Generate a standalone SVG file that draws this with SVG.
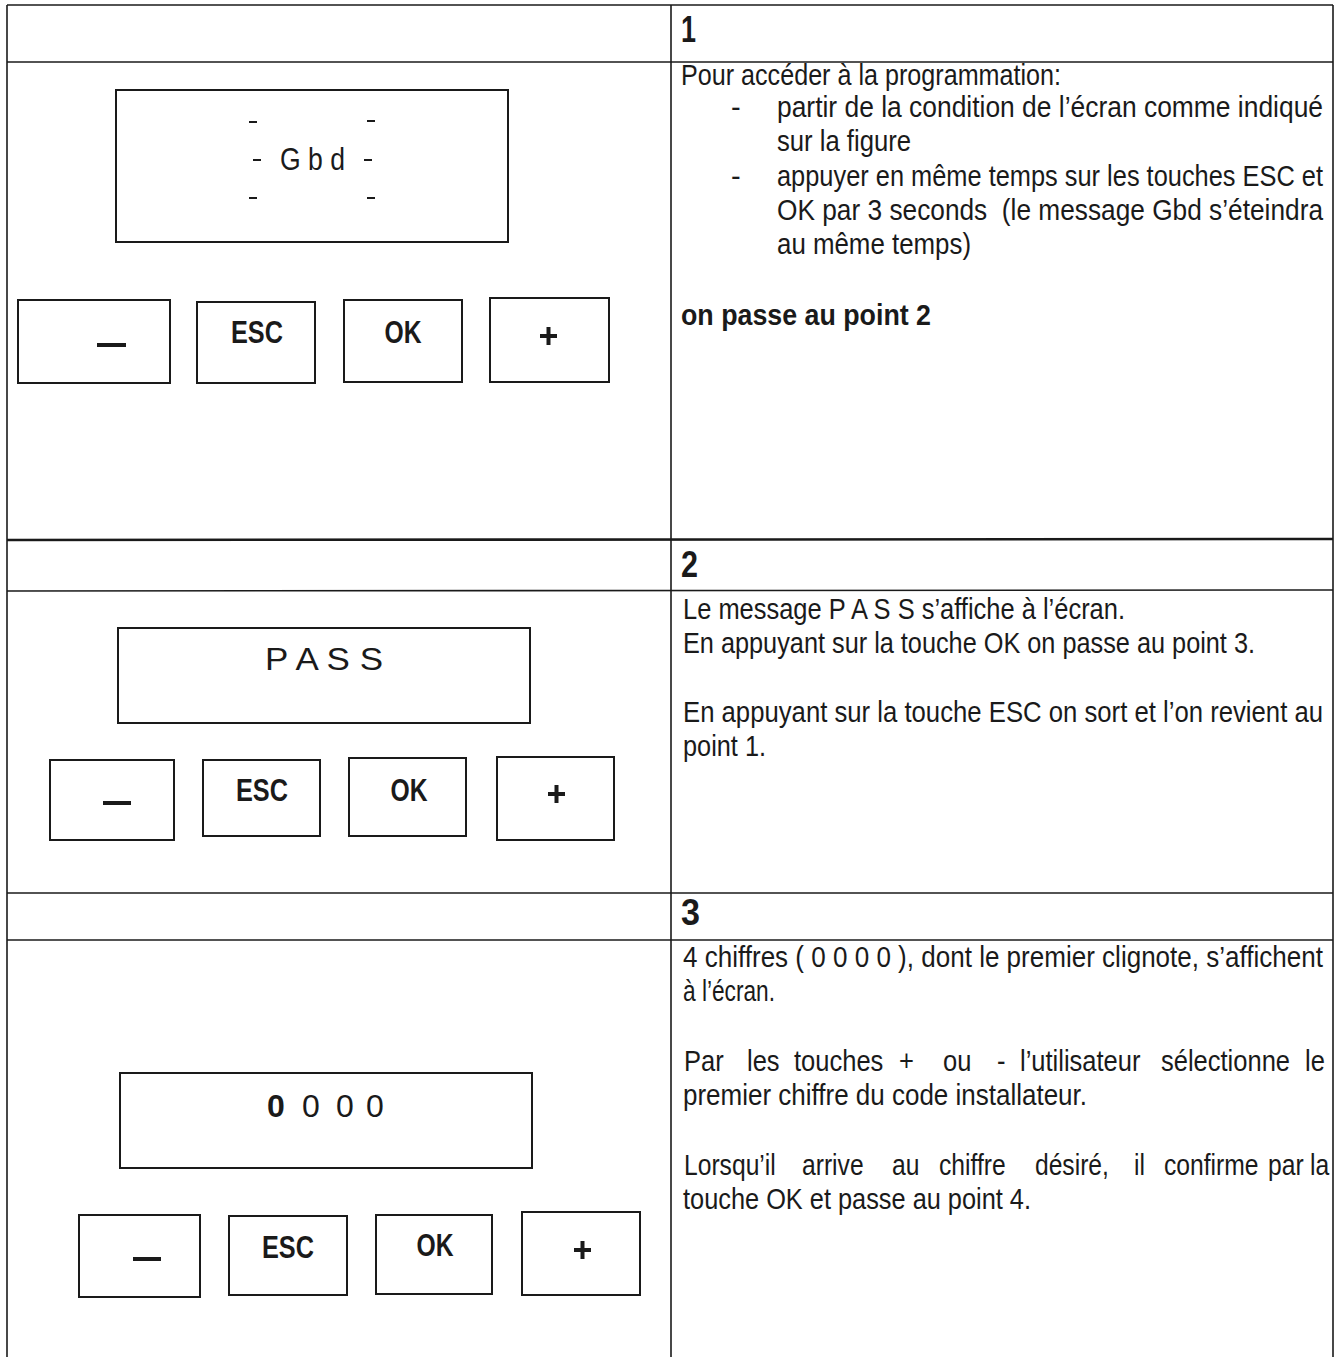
<svg xmlns="http://www.w3.org/2000/svg" width="1338" height="1357" viewBox="0 0 1338 1357">
<style>
.ln{stroke:#1a1a1a;stroke-width:1.6;fill:none}
.thk{stroke:#1a1a1a;stroke-width:2.6;fill:none}
.box{stroke:#1a1a1a;stroke-width:2;fill:none}
.t{font-family:"Liberation Sans Narrow","Liberation Sans",Arial,sans-serif;font-size:29px;fill:#1a1a1a}
.tb{font-family:"Liberation Sans Narrow","Liberation Sans",Arial,sans-serif;font-size:30px;font-weight:bold;fill:#1a1a1a}
.num{font-family:"Liberation Sans",Arial,sans-serif;font-size:36px;font-weight:bold;fill:#1a1a1a}
.key{font-family:"Liberation Sans",Arial,sans-serif;font-size:32px;font-weight:bold;fill:#1a1a1a;text-anchor:middle}
.disp{font-family:"Liberation Sans",Arial,sans-serif;font-size:32px;fill:#1a1a1a}
.bar{stroke:#1a1a1a;stroke-width:4;fill:none}
.dsh{stroke:#1a1a1a;stroke-width:2;fill:none}
</style>
<rect width="1338" height="1357" fill="#fff"/>
<g id="table">
<line class="ln" x1="7" y1="5" x2="1333" y2="5"/>
<line class="ln" x1="7" y1="62" x2="1333" y2="62"/>
<line class="thk" x1="7" y1="540" x2="1333" y2="539"/>
<line class="ln" x1="7" y1="591" x2="1333" y2="590"/>
<line class="ln" x1="7" y1="893" x2="1333" y2="893"/>
<line class="ln" x1="7" y1="940" x2="1333" y2="940"/>
<line class="ln" x1="7" y1="5" x2="7" y2="1357"/>
<line class="ln" x1="671" y1="5" x2="671" y2="1357"/>
<line class="ln" x1="1333" y1="5" x2="1333" y2="1357"/>
</g>
<g id="step1">
<text class="num" x="681" y="42" textLength="15" lengthAdjust="spacingAndGlyphs">1</text>
<g id="display1">
<rect class="box" x="116" y="90" width="392" height="152"/>
<text class="disp" x="280" y="170" textLength="65" lengthAdjust="spacingAndGlyphs">G b d</text>
<path class="dsh" d="M249 122h8M367 121h8M253 160h8M364 160h8M249 198h8M367 198h8"/>
</g>
<g id="keys1">
<rect class="box" x="18" y="300" width="152" height="83"/>
<line class="bar" x1="97" y1="345" x2="126" y2="345"/>
<rect class="box" x="197" y="302" width="118" height="81"/>
<text class="key" x="257" y="343" textLength="52" lengthAdjust="spacingAndGlyphs">ESC</text>
<rect class="box" x="344" y="300" width="118" height="82"/>
<text class="key" x="403" y="343" textLength="37" lengthAdjust="spacingAndGlyphs">OK</text>
<rect class="box" x="490" y="298" width="119" height="84"/>
<path class="bar" d="M540 336h17M548.5 327v18"/>
</g>
<g id="text1">
<text class="t" x="681" y="85" textLength="380" lengthAdjust="spacingAndGlyphs">Pour accéder à la programmation:</text>
<text class="t" x="731" y="117">-</text>
<text class="t" x="777" y="117" textLength="546" lengthAdjust="spacingAndGlyphs">partir de la condition de l’écran comme indiqué</text>
<text class="t" x="777" y="151" textLength="134" lengthAdjust="spacingAndGlyphs">sur la figure</text>
<text class="t" x="731" y="186">-</text>
<text class="t" x="777" y="186" textLength="546" lengthAdjust="spacingAndGlyphs">appuyer en même temps sur les touches ESC et</text>
<text class="t" x="777" y="220" textLength="546" lengthAdjust="spacingAndGlyphs" xml:space="preserve">OK par 3 seconds  (le message Gbd s’éteindra</text>
<text class="t" x="777" y="254" textLength="194" lengthAdjust="spacingAndGlyphs">au même temps)</text>
<text class="tb" x="681" y="325" textLength="250" lengthAdjust="spacingAndGlyphs">on passe au point 2</text>
</g>
</g>
<g id="step2">
<text class="num" x="681" y="577" textLength="17" lengthAdjust="spacingAndGlyphs">2</text>
<g id="display2">
<rect class="box" x="118" y="628" width="412" height="95"/>
<text class="disp" x="265" y="670" textLength="118" lengthAdjust="spacingAndGlyphs">P A S S</text>
</g>
<g id="keys2">
<rect class="box" x="50" y="760" width="124" height="80"/>
<line class="bar" x1="103" y1="803" x2="131" y2="803"/>
<rect class="box" x="203" y="760" width="117" height="76"/>
<text class="key" x="262" y="801" textLength="52" lengthAdjust="spacingAndGlyphs">ESC</text>
<rect class="box" x="349" y="758" width="117" height="78"/>
<text class="key" x="409" y="801" textLength="37" lengthAdjust="spacingAndGlyphs">OK</text>
<rect class="box" x="497" y="757" width="117" height="83"/>
<path class="bar" d="M548 794h17M556.5 785v18"/>
</g>
<g id="text2">
<text class="t" x="683" y="619" textLength="442" lengthAdjust="spacingAndGlyphs">Le message P A S S s’affiche à l’écran.</text>
<text class="t" x="683" y="653" textLength="572" lengthAdjust="spacingAndGlyphs">En appuyant sur la touche OK on passe au point 3.</text>
<text class="t" x="683" y="722" textLength="640" lengthAdjust="spacingAndGlyphs">En appuyant sur la touche ESC on sort et l’on revient au</text>
<text class="t" x="683" y="756" textLength="83" lengthAdjust="spacingAndGlyphs">point 1.</text>
</g>
</g>
<g id="step3">
<text class="num" x="681" y="925" textLength="19" lengthAdjust="spacingAndGlyphs">3</text>
<g id="display3">
<rect class="box" x="120" y="1073" width="412" height="95"/>
<text class="disp" x="276" y="1117" text-anchor="middle" font-weight="bold">0</text>
<text class="disp" x="311" y="1117" text-anchor="middle">0</text>
<text class="disp" x="345" y="1117" text-anchor="middle">0</text>
<text class="disp" x="375" y="1117" text-anchor="middle">0</text>
</g>
<g id="keys3">
<rect class="box" x="79" y="1215" width="121" height="82"/>
<line class="bar" x1="133" y1="1259" x2="161" y2="1259"/>
<rect class="box" x="229" y="1216" width="118" height="79"/>
<text class="key" x="288" y="1258" textLength="52" lengthAdjust="spacingAndGlyphs">ESC</text>
<rect class="box" x="376" y="1215" width="116" height="79"/>
<text class="key" x="435" y="1256" textLength="37" lengthAdjust="spacingAndGlyphs">OK</text>
<rect class="box" x="522" y="1212" width="118" height="83"/>
<path class="bar" d="M574 1250h17M582.5 1241v18"/>
</g>
<g id="text3">
<text class="t" x="683" y="967" textLength="640" lengthAdjust="spacingAndGlyphs">4 chiffres ( 0 0 0 0 ), dont le premier clignote, s’affichent</text>
<text class="t" x="683" y="1001" textLength="92" lengthAdjust="spacingAndGlyphs">à l’écran.</text>
<g class="t" transform="scale(0.88,1)">
<text x="777.3" y="1071">Par</text>
<text x="848.9" y="1071">les</text>
<text x="902.3" y="1071">touches</text>
<text x="1021.6" y="1071">+</text>
<text x="1071.6" y="1071">ou</text>
<text x="1133" y="1071">-</text>
<text x="1159.1" y="1071">l’utilisateur</text>
<text x="1319.3" y="1071">sélectionne</text>
<text x="1483" y="1071">le</text>
</g>
<text class="t" x="683" y="1105" textLength="404" lengthAdjust="spacingAndGlyphs">premier chiffre du code installateur.</text>
<g class="t" transform="scale(0.85,1)">
<text x="804.7" y="1175">Lorsqu’il</text>
<text x="943.5" y="1175">arrive</text>
<text x="1049.4" y="1175">au</text>
<text x="1104.7" y="1175">chiffre</text>
<text x="1217.6" y="1175">désiré,</text>
<text x="1334.1" y="1175">il</text>
<text x="1369.4" y="1175">confirme</text>
<text x="1491.8" y="1175">par</text>
<text x="1541.2" y="1175">la</text>
</g>
<text class="t" x="683" y="1209" textLength="348" lengthAdjust="spacingAndGlyphs">touche OK et passe au point 4.</text>
</g>
</g>
</svg>
